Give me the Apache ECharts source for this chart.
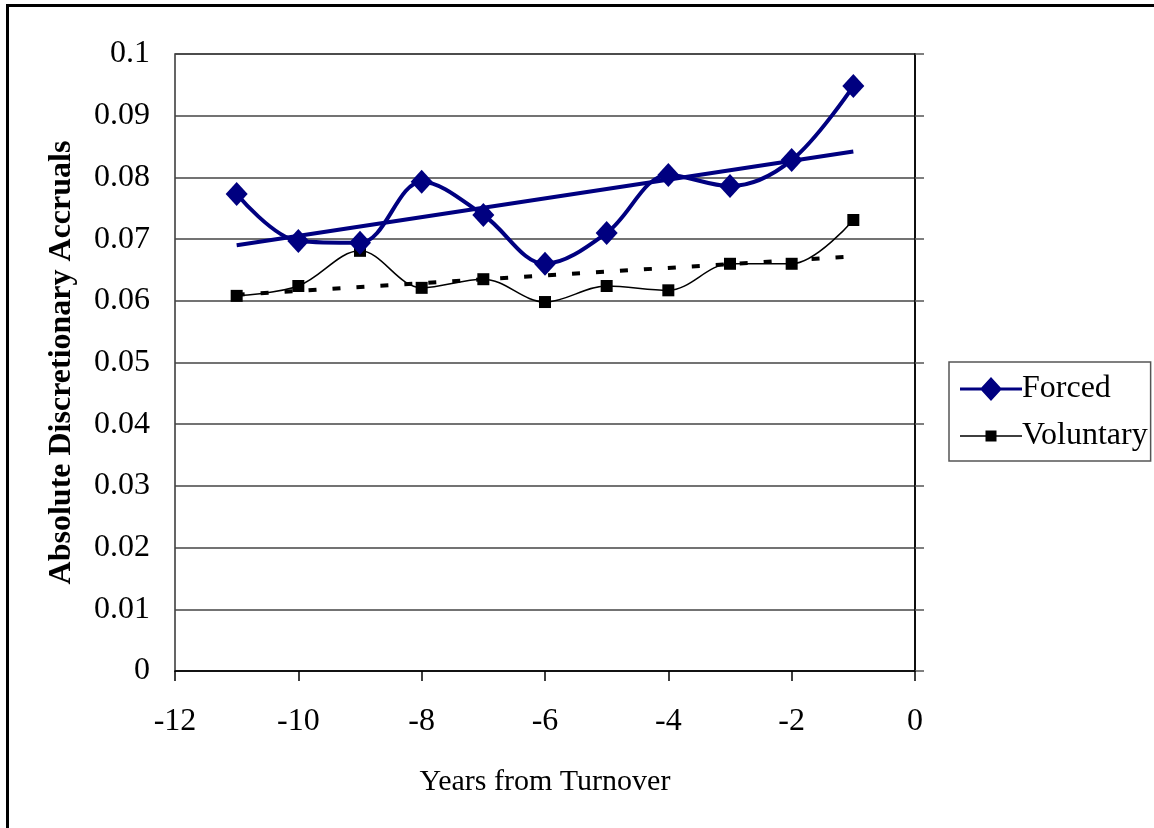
<!DOCTYPE html>
<html>
<head>
<meta charset="utf-8">
<script src="https://cdn.jsdelivr.net/npm/echarts@6/dist/echarts.min.js"></script>
<style>
html,body{margin:0;padding:0;background:#fff;overflow:hidden;}
#frame{position:absolute;left:6px;top:4px;width:1200px;height:900px;border:3px solid #000;box-sizing:border-box;}
#chart{position:absolute;left:0;top:0;width:1154px;height:828px;}
</style>
</head>
<body>
<div id="frame"></div>
<div id="chart"></div>
<script>
var years = [-11, -10, -9, -8, -7, -6, -5, -4, -3, -2, -1];
var forced = [0.0773, 0.0697, 0.0694, 0.0793, 0.0739, 0.0660, 0.0710, 0.0804, 0.0786, 0.0828, 0.0948];
var voluntary = [0.0608, 0.0624, 0.0681, 0.0621, 0.0635, 0.0598, 0.0624, 0.0617, 0.0660, 0.0660, 0.0731];
var trendYears = [-11, -1];
var forcedTrend = [0.0690, 0.0842];
var voluntaryTrend = [0.0610, 0.0672];
var yTicks = ['0', '0.01', '0.02', '0.03', '0.04', '0.05', '0.06', '0.07', '0.08', '0.09', '0.1'];

function pairs(xs, ys) { return xs.map(function (x, i) { return [x, ys[i]]; }); }

// legend icons: line with marker in the middle (62 x 24 box)
var tiny = 'M0 0 L0.01 0 L0.01 0.01 Z M62 24 L61.99 24 L61.99 23.99 Z ';
var forcedIcon = 'path://' + tiny + 'M0 10.5 L21.4 10.5 L31 0 L40.6 10.5 L62 10.5 L62 13.5 L40.6 13.5 L31 24 L21.4 13.5 L0 13.5 Z';
var volIcon = 'path://' + tiny + 'M0 11.25 L25.5 11.25 L25.5 6.5 L36.5 6.5 L36.5 11.25 L62 11.25 L62 12.75 L36.5 12.75 L36.5 17.5 L25.5 17.5 L25.5 12.75 L0 12.75 Z';

var FONT = 'Liberation Serif';
var chart = echarts.init(document.getElementById('chart'));
chart.setOption({
  backgroundColor: 'transparent',
  animation: false,
  textStyle: { fontFamily: FONT, color: '#000' },
  grid: { left: 175, top: 54, right: 239, bottom: 157, show: true, borderColor: '#333', borderWidth: 1.5 },
  legend: {
    data: [{ name: 'Forced', icon: forcedIcon }, { name: 'Voluntary', icon: volIcon }],
    orient: 'vertical',
    left: 949, top: 362,
    itemWidth: 62, itemHeight: 24,
    itemGap: 15,
    padding: [11, 3, 9, 11],
    borderColor: '#555', borderWidth: 1.5,
    textStyle: { fontFamily: FONT, fontSize: 32, color: '#000', padding: [0, 0, 0, -5] }
  },
  xAxis: {
    type: 'value', min: -12, max: 0, interval: 2,
    name: 'Years from Turnover', nameLocation: 'middle', nameGap: 96,
    nameTextStyle: { fontFamily: FONT, fontSize: 30, color: '#000' },
    axisLine: { show: true, onZero: false, lineStyle: { color: '#000', width: 1.5 } },
    axisTick: { show: true, length: 10, lineStyle: { color: '#000', width: 1.5 } },
    axisLabel: { fontFamily: FONT, fontSize: 32, color: '#000', margin: 35 },
    splitLine: { show: false }
  },
  yAxis: [{
    type: 'value', min: 0, max: 0.1, interval: 0.01,
    name: 'Absolute Discretionary Accruals', nameLocation: 'middle', nameGap: 97,
    nameTextStyle: { fontFamily: FONT, fontSize: 32, fontWeight: 'bold', color: '#000' },
    axisLine: { show: true, lineStyle: { color: '#333', width: 1.5 } },
    axisTick: { show: false },
    axisLabel: {
      fontFamily: FONT, fontSize: 32, color: '#000', margin: 25,
      formatter: function (v) { return yTicks[Math.round(v * 100)]; }
    },
    splitLine: { show: true, lineStyle: { color: '#444', width: 1.5 } }
  }, {
    type: 'value', min: 0, max: 0.1, interval: 0.01, position: 'right',
    axisLine: { show: true, lineStyle: { color: '#000', width: 1.5 } },
    axisTick: { show: true, length: 9, lineStyle: { color: '#555', width: 1.5 } },
    axisLabel: { show: false },
    splitLine: { show: false }
  }],
  series: [
    {
      name: 'Forced', type: 'line', data: pairs(years, forced), smooth: 0.35,
      symbol: 'diamond', symbolSize: [22, 24],
      lineStyle: { color: '#000080', width: 4 },
      itemStyle: { color: '#000080' }, z: 5
    },
    {
      name: 'Voluntary', type: 'line', data: pairs(years, voluntary), smooth: 0.35,
      symbol: 'rect', symbolSize: 12,
      lineStyle: { color: '#000', width: 1.5 },
      itemStyle: { color: '#000' }, z: 4
    },
    {
      name: 'Forced trend', type: 'line', data: pairs(trendYears, forcedTrend),
      symbol: 'none', lineStyle: { color: '#000080', width: 4 }, z: 3
    },
    {
      name: 'Voluntary trend', type: 'line', data: pairs(trendYears, voluntaryTrend),
      symbol: 'none', lineStyle: { color: '#000', width: 4, type: [8, 16] }, z: 3
    }
  ]
});
</script>
</body>
</html>
